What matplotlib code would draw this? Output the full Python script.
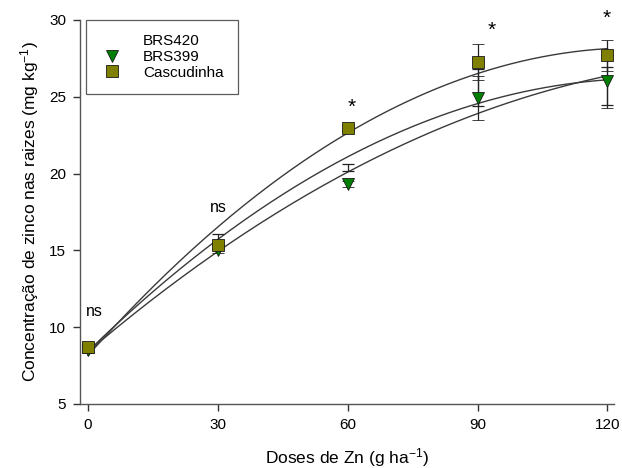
import numpy as np
import matplotlib
matplotlib.use("Agg")
import matplotlib.pyplot as plt
from matplotlib.lines import Line2D

plt.rcParams['font.family'] = ['Liberation Sans', 'DejaVu Sans']
plt.rcParams['mathtext.fontset'] = 'custom'
plt.rcParams['mathtext.rm'] = 'Liberation Sans'
plt.rcParams['mathtext.it'] = 'Liberation Sans'
plt.rcParams['mathtext.default'] = 'regular'

doses = [0, 30, 60, 90, 120]

# valores
brs420 = [8.6, 15.6, 20.4, 25.6, 25.7]
brs420_err = [0.2, 0.45, 0.22, 1.22, 1.23]
brs399 = [8.5, 15.0, 19.3, 24.9, 26.0]
brs399_err = [0.15, 0.2, 0.2, 1.43, 1.75]
cascudinha = [8.7, 15.35, 22.95, 27.28, 27.7]
cascudinha_err = [0.2, 0.2, 0.2, 1.17, 1.02]

sig_labels = ['ns', 'ns', '*', '*', '*']
sig_x = [1.5, 30, 61, 93.3, 119.8]
sig_y = [11.0, 17.8, 24.3, 29.3, 30.1]

fig = plt.figure(figsize=(6.22, 4.68), dpi=100)
ax = fig.add_axes([0.1286, 0.1368, 0.8585, 0.8205])

xs = np.linspace(0, 120, 200)
for y in [brs420, brs399, cascudinha]:
    coef = np.polyfit(doses, y, 2)
    ax.plot(xs, np.polyval(coef, xs), color='#3a3a3a', lw=1.0, zorder=2)

ax.errorbar(doses, brs420, yerr=brs420_err, fmt='none', ecolor='#222222',
            elinewidth=0.9, capsize=4.3, capthick=0.9, zorder=3)
ax.errorbar(doses, brs399, yerr=brs399_err, fmt='v', color='#008000',
            mec='#1a1a1a', mew=0.6, ms=9, ecolor='#222222',
            elinewidth=0.9, capsize=4.3, capthick=0.9, zorder=4)
ax.errorbar(doses, cascudinha, yerr=cascudinha_err, fmt='s', color='#808000',
            mec='#1a1a1a', mew=0.6, ms=8.5, ecolor='#222222',
            elinewidth=0.9, capsize=4.3, capthick=0.9, zorder=5)

for lab, x, y in zip(sig_labels, sig_x, sig_y):
    ax.text(x, y, lab, ha='center', va='center', fontsize=11.5 if lab == 'ns' else 15)

handles = [
    Line2D([], [], ls='none', marker='None'),
    Line2D([], [], ls='none', marker='v', color='#008000', mec='#1a1a1a', mew=0.6, ms=9),
    Line2D([], [], ls='none', marker='s', color='#808000', mec='#1a1a1a', mew=0.6, ms=8.5),
]
leg = ax.legend(handles, ['BRS420', 'BRS399', 'Cascudinha'], loc='upper left',
                bbox_to_anchor=(0.011, 1.0), fontsize=11, frameon=True, fancybox=False,
                edgecolor='#333333', handlelength=1.5, handletextpad=1.3,
                labelspacing=0.1, borderpad=0.95, borderaxespad=0)
leg.get_frame().set_linewidth(0.9)
leg.set_zorder(10)

ax.set_xlim(-1.85, 121.5)
ax.set_ylim(5, 30)
ax.set_xticks(doses)
ax.set_yticks([5, 10, 15, 20, 25, 30])
for s in ['top', 'right']:
    ax.spines[s].set_visible(False)
for s in ['left', 'bottom']:
    ax.spines[s].set_color('#555555')
    ax.spines[s].set_linewidth(1.0)
ax.tick_params(direction='out', length=5, width=1, color='#333333',
               labelsize=11, pad=5)

ax.set_xlabel('Doses de Zn (g ha$^{-1}$)', fontsize=12.5, labelpad=10)
ax.set_ylabel('Concentração de zinco nas raizes (mg kg$^{-1}$)', fontsize=12.5, labelpad=6)

fig.savefig('out.png', dpi=100)
